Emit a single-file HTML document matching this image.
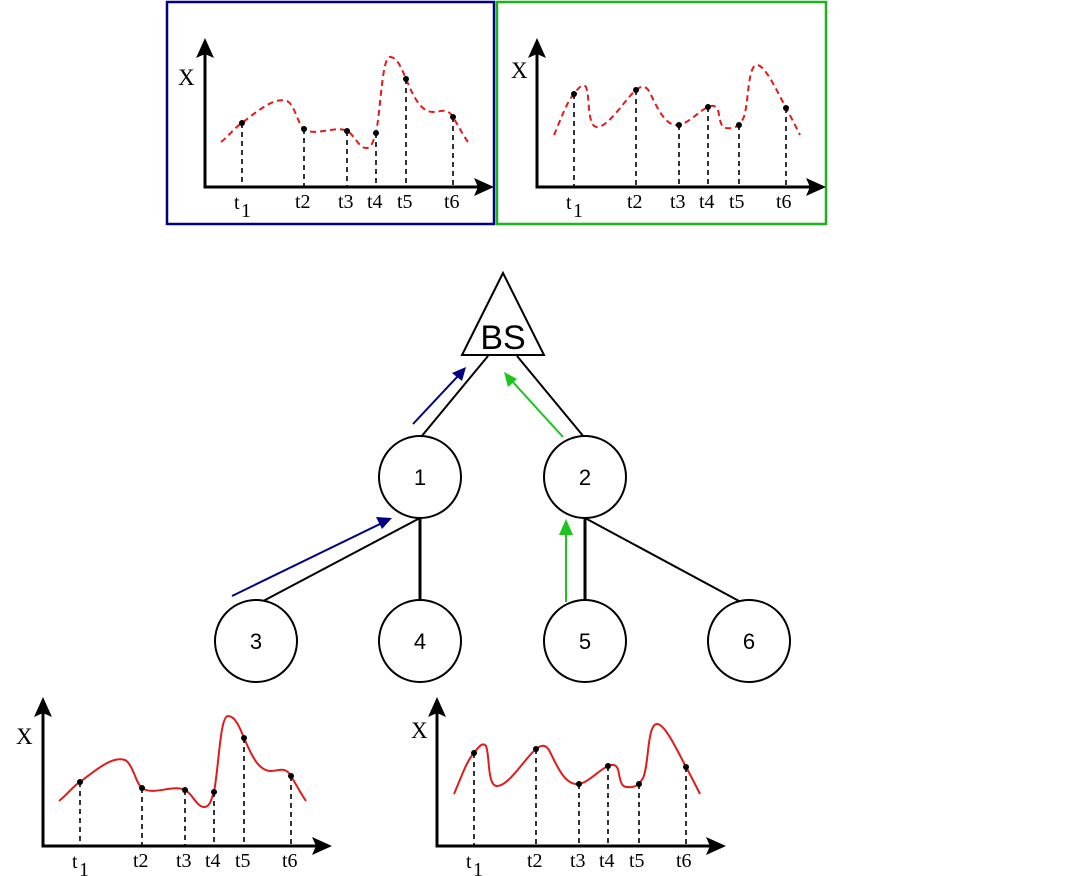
<!DOCTYPE html>
<html><head><meta charset="utf-8"><style>
html,body{margin:0;padding:0;background:#fff;}
svg{display:block;}
.ax{stroke:#000;stroke-width:3;fill:none;}
.vd{stroke:#000;stroke-width:1.6;stroke-dasharray:5,4;}
.lb{font-family:"Liberation Serif",serif;font-size:20px;fill:#000;}
.xl{font-family:"Liberation Serif",serif;font-size:23px;fill:#000;}
.nd{font-family:"Liberation Sans",sans-serif;font-size:22px;fill:#000;text-anchor:middle;}
</style></head><body>
<svg width="1092" height="876" viewBox="0 0 1092 876" xmlns="http://www.w3.org/2000/svg">
<defs>
<path id="cA" d="M16,-45 C25,-52 30,-60 37,-64 C55,-78 70,-90 82,-86 C90,-82 93,-62 99,-58 C110,-50 130,-62 142,-56 C150,-52 154,-38 162,-39 C168,-40 169,-50 171,-54 C176,-80 177,-130 185,-130 C193,-130 198,-115 201,-108 C208,-92 215,-75 228,-75 C236,-75 242,-80 248,-70 C254,-60 258,-52 263,-45"/>
<path id="cB" d="M17,-52 C24,-68 30,-86 37,-93 C42,-100 46,-104 49,-100 C53,-90 50,-60 60,-60 C72,-60 88,-88 99,-97 C104,-101 108,-102 112,-96 C120,-80 128,-60 142,-62 C152,-64 162,-76 171,-80 C178,-83 181,-80 182,-72 C184,-60 186,-58 195,-59 C200,-60 202,-61 206,-68 C212,-80 210,-122 220,-122 C228,-122 240,-96 249,-79 C254,-70 259,-60 263,-52"/>
<g id="axes">
<line class="ax" x1="0" y1="1.5" x2="0" y2="-135"/>
<line class="ax" x1="-1.5" y1="0" x2="275" y2="0"/>
<path d="M0,-149 L9,-129 L0,-133 L-9,-129 Z" fill="#000"/>
<path d="M289,0 L269,-9 L273,0 L269,9 Z" fill="#000"/>
</g>
<g id="labels">
<text class="lb" x="29" y="22">t</text><text class="lb" x="36" y="30" font-size="19">1</text>
<text class="lb" x="90" y="21">t2</text>
<text class="lb" x="133" y="21">t3</text>
<text class="lb" x="162" y="21">t4</text>
<text class="lb" x="192" y="21">t5</text>
<text class="lb" x="239" y="21">t6</text>
</g>
<g id="dA">
<g class="vd"><line x1="37" y1="-64" x2="37" y2="0"/><line x1="99" y1="-58" x2="99" y2="0"/><line x1="142" y1="-56" x2="142" y2="0"/><line x1="171" y1="-54" x2="171" y2="0"/><line x1="201" y1="-108" x2="201" y2="0"/><line x1="248" y1="-70" x2="248" y2="0"/></g>
<g fill="#000"><circle cx="37" cy="-64" r="3"/><circle cx="99" cy="-58" r="3"/><circle cx="142" cy="-56" r="3"/><circle cx="171" cy="-54" r="3"/><circle cx="201" cy="-108" r="3"/><circle cx="248" cy="-70" r="3"/></g>
<use href="#axes"/><use href="#labels"/>
</g>
<g id="dB">
<g class="vd"><line x1="37" y1="-93" x2="37" y2="0"/><line x1="99" y1="-97" x2="99" y2="0"/><line x1="142" y1="-62" x2="142" y2="0"/><line x1="171" y1="-80" x2="171" y2="0"/><line x1="202" y1="-62" x2="202" y2="0"/><line x1="249" y1="-79" x2="249" y2="0"/></g>
<g fill="#000"><circle cx="37" cy="-93" r="3"/><circle cx="99" cy="-97" r="3"/><circle cx="142" cy="-62" r="3"/><circle cx="171" cy="-80" r="3"/><circle cx="202" cy="-62" r="3"/><circle cx="249" cy="-79" r="3"/></g>
<use href="#axes"/><use href="#labels"/>
</g>
</defs>

<rect x="167" y="2" width="327" height="222" fill="none" stroke="#000080" stroke-width="2.5"/>
<rect x="497" y="2" width="329" height="222" fill="none" stroke="#1db31d" stroke-width="2.5"/>

<g transform="translate(205,187)">
<use href="#cA" fill="none" stroke="#e01b1b" stroke-width="2" stroke-dasharray="6,4"/>
<use href="#dA"/>
<text class="xl" x="-27" y="-102">X</text>
</g>
<g transform="translate(537,187)">
<use href="#cB" fill="none" stroke="#e01b1b" stroke-width="2" stroke-dasharray="6,4"/>
<use href="#dB"/>
<text class="xl" x="-26" y="-109">X</text>
</g>
<g transform="translate(43,846)">
<use href="#cA" fill="none" stroke="#e01b1b" stroke-width="2"/>
<use href="#dA"/>
<text class="xl" x="-27" y="-102">X</text>
</g>
<g transform="translate(437,846)">
<use href="#cB" fill="none" stroke="#e01b1b" stroke-width="2"/>
<use href="#dB"/>
<text class="xl" x="-26" y="-108">X</text>
</g>

<g stroke="#000" stroke-width="2" fill="none">
<line x1="488" y1="356" x2="421" y2="437"/>
<line x1="517" y1="356" x2="584" y2="437"/>
<line x1="420" y1="518" x2="250" y2="608"/>
<line x1="420" y1="518" x2="420" y2="600" stroke-width="3"/>
<line x1="585" y1="518" x2="585" y2="600" stroke-width="3"/>
<line x1="585" y1="518" x2="752" y2="608"/>
<polygon points="503,273 462,355 544,355" fill="#fff"/>
<circle cx="420" cy="477" r="41" fill="#fff"/>
<circle cx="585" cy="477" r="41" fill="#fff"/>
<circle cx="256" cy="641" r="41" fill="#fff"/>
<circle cx="420" cy="641" r="41" fill="#fff"/>
<circle cx="585" cy="641" r="41" fill="#fff"/>
<circle cx="749" cy="641" r="41" fill="#fff"/>
</g>
<line x1="420" y1="518" x2="243" y2="604" stroke="#000" stroke-width="2" clip-path="none" opacity="0"/>
<text x="503" y="349" font-family="Liberation Sans,sans-serif" font-size="34" text-anchor="middle">BS</text>
<text class="nd" x="420" y="485">1</text>
<text class="nd" x="585" y="485">2</text>
<text class="nd" x="256" y="649">3</text>
<text class="nd" x="420" y="649">4</text>
<text class="nd" x="585" y="649">5</text>
<text class="nd" x="749" y="649">6</text>

<g stroke-width="2">
<line x1="413" y1="424" x2="458" y2="376" stroke="#000080"/>
<line x1="232" y1="596" x2="382" y2="523" stroke="#000080"/>
<line x1="563" y1="437" x2="511" y2="380" stroke="#1dc41d"/>
<line x1="566" y1="602" x2="566" y2="532" stroke="#1dc41d"/>
</g>
<polygon points="466,367 452,373 462,381" fill="#000080"/>
<polygon points="392,518 376,517 382,529" fill="#000080"/>
<polygon points="504,372 508,387 517,379" fill="#1dc41d"/>
<polygon points="566,519 559,535 573,535" fill="#1dc41d"/>
</svg>
</body></html>
